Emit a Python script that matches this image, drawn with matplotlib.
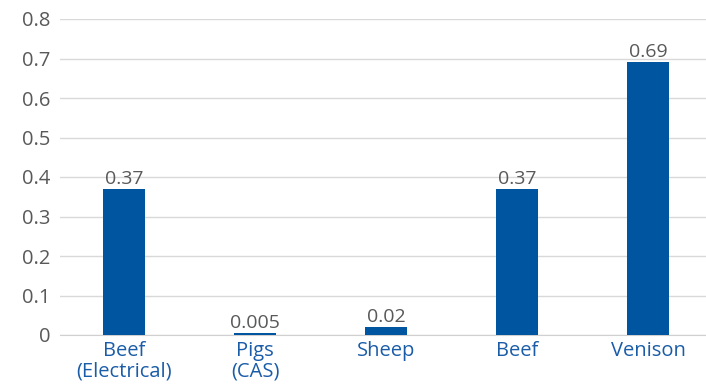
import matplotlib
matplotlib.use("Agg")
import matplotlib.pyplot as plt

categories = ["Beef\n(Electrical)", "Pigs\n(CAS)", "Sheep", "Beef", "Venison"]
values = [0.37, 0.005, 0.02, 0.37, 0.69]
value_labels = ["0.37", "0.005", "0.02", "0.37", "0.69"]
yticks = [0, 0.1, 0.2, 0.3, 0.4, 0.5, 0.6, 0.7, 0.8]
ytick_labels = ["0", "0.1", "0.2", "0.3", "0.4", "0.5", "0.6", "0.7", "0.8"]

plt.rcParams["font.family"] = ["Open Sans", "DejaVu Sans"]

fig = plt.figure(figsize=(7.06, 3.88), dpi=100)
ax = fig.add_axes([60 / 706, 1 - 335 / 388, 646 / 706, 316 / 388])

x = list(range(len(categories)))
bars = ax.bar(x, values, width=0.32, color="#0055a0", zorder=3)

# value labels just above each bar
for bar, lbl in zip(bars, value_labels):
    ax.text(bar.get_x() + bar.get_width() / 2, bar.get_height() + 0.003, lbl,
            ha="center", va="bottom", fontsize=14, color="#595959", zorder=4)

ax.set_xlim(-0.489, 4.443)
ax.set_ylim(0, 0.8)
ax.set_yticks(yticks)
ax.set_yticklabels(ytick_labels, fontsize=14.5, color="#595959")
ax.set_xticks(x)
ax.set_xticklabels(categories, fontsize=14.5, color="#1a5ca8", linespacing=1.05)

ax.grid(axis="y", color="#d9d9d9", linewidth=1, zorder=0)
ax.tick_params(axis="both", length=0)
ax.tick_params(axis="y", pad=7)
ax.tick_params(axis="x", pad=4)
for side in ["top", "right", "left"]:
    ax.spines[side].set_visible(False)
ax.spines["bottom"].set_color("#d0d0d0")
ax.spines["bottom"].set_zorder(2)

fig.savefig("out.png", dpi=100)
